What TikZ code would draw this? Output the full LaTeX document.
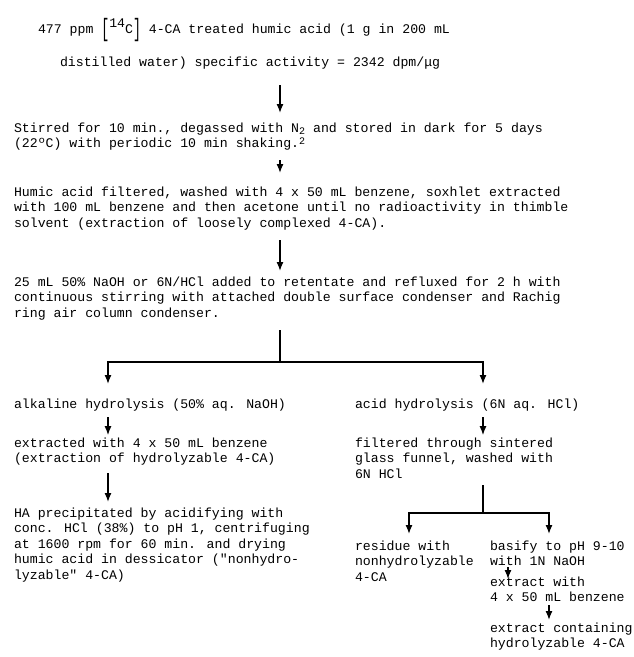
\documentclass[tikz,border=0pt]{standalone}
\usepackage{fontspec}
\setmainfont{Liberation Mono}
\usetikzlibrary{arrows.meta}
\newcommand\mlines[1]{\begin{tabular}[t]{@{}l@{}}#1\end{tabular}}
\newcommand\tallbr[1]{\raisebox{-3.5pt}{\scalebox{1}[1.9]{#1}}}
\newcommand\smalltwo{{\fontsize{10}{10}\selectfont 2}}
\begin{document}
\begin{tikzpicture}[x=1pt,y=-1pt,
  txt/.style={anchor=base west, inner sep=0pt, outer sep=0pt, font=\fontsize{13.2}{15.5}\selectfont},
  conn/.style={line width=1.35pt},
  arr/.style={conn, -{Latex[length=9pt,width=7pt]}}]
\fill[white] (0,0) rectangle (634,657);
\useasboundingbox (0,0) rectangle (634,657);
% arrow columns
\coordinate (cx) at (280,0);
\coordinate (lx) at (108,0);
\coordinate (rx) at (483,0);
\coordinate (slx) at (409,0);
\coordinate (srx) at (549,0);
\coordinate (smx) at (508,0);
% text blocks
\node[txt] (n1) at (38,33) {\mlines{477 ppm \tallbr{[}\raisebox{6pt}{14}C\tallbr{]} 4-CA treated humic acid (1 g in 200 mL}};
\node[txt] (n2) at (60,66) {\mlines{distilled water) specific activity = 2342 dpm/μg}};
\node[txt] (n3) at (14,132) {\mlines{Stirred for 10 min., degassed with N\raisebox{-2.5pt}{\smalltwo} and stored in dark for 5 days\\
(22ºC) with periodic 10 min shaking.\raisebox{3pt}{\smalltwo}}};
\node[txt] (n4) at (14,196) {\mlines{Humic acid filtered, washed with 4 x 50 mL benzene, soxhlet extracted\\
with 100 mL benzene and then acetone until no radioactivity in thimble\\
solvent (extraction of loosely complexed 4-CA).}};
\node[txt] (n5) at (14,286) {\mlines{25 mL 50\% NaOH or 6N/HCl added to retentate and refluxed for 2 h with\\
continuous stirring with attached double surface condenser and Rachig\\
ring air column condenser.}};
\node[txt] (n6) at (14,408) {\mlines{alkaline hydrolysis (50\% aq. NaOH)}};
\node[txt] (n7) at (355,408) {\mlines{acid hydrolysis (6N aq. HCl)}};
\node[txt] (n8) at (14,447) {\mlines{extracted with 4 x 50 mL benzene\\
(extraction of hydrolyzable 4-CA)}};
\node[txt] (n9) at (355,447) {\mlines{filtered through sintered\\
glass funnel, washed with\\
6N HCl}};
\node[txt] (n10) at (14,517) {\mlines{HA precipitated by acidifying with\\
conc. HCl (38\%) to pH 1, centrifuging\\
at 1600 rpm for 60 min. and drying\\
humic acid in dessicator (\textquotedbl nonhydro-\\
lyzable\textquotedbl{} 4-CA)}};
\node[txt] (n11) at (355,550) {\mlines{residue with\\
nonhydrolyzable\\
4-CA}};
\node[txt] (n12) at (490,550) {\mlines{basify to pH 9-10\\
with 1N NaOH}};
\node[txt] (n13) at (490,586) {\mlines{extract with\\
4 x 50 mL benzene}};
\node[txt] (n14) at (490,632) {\mlines{extract containing\\
hydrolyzable 4-CA}};
% split points
\coordinate (s1) at (280,362);
\coordinate (s2) at (483,513);
% connectors
\draw[arr, shorten <=14.35pt, shorten >=8.15pt] (n2.south -| cx) -- (n3.north -| cx);
\draw[arr, shorten <=7.85pt, shorten >=12.15pt] (n3.south -| cx) -- (n4.north -| cx);
\draw[arr, shorten <=8.35pt, shorten >=4.15pt] (n4.south -| cx) -- (n5.north -| cx);
\draw[conn, shorten <=8.35pt] (n5.south -| cx) -- (s1);
\draw[arr, shorten >=13.15pt] (s1) -| (n6.north -| lx);
\draw[arr, shorten >=13.15pt] (s1) -| (n7.north -| rx);
\draw[arr, shorten <=4.35pt, shorten >=1pt] (n6.south -| lx) -- (n8.north -| lx);
\draw[arr, shorten <=4.35pt, shorten >=1pt] (n7.south -| rx) -- (n9.north -| rx);
\draw[arr, shorten <=5.85pt, shorten >=4.15pt] (n8.south -| lx) -- (n10.north -| lx);
\draw[conn, shorten <=2.35pt] (n9.south -| rx) -- (s2);
\draw[arr, shorten >=5.15pt] (s2) -| (n11.north -| slx);
\draw[arr, shorten >=5.15pt] (s2) -| (n12.north -| srx);
\draw[arr, shorten <=-3.15pt, shorten >=-3.85pt] (n12.south -| smx) -- (n13.north -| smx);
\draw[arr, shorten <=-1.15pt, shorten >=1.15pt] (n13.south -| srx) -- (n14.north -| srx);
\end{tikzpicture}
\end{document}
